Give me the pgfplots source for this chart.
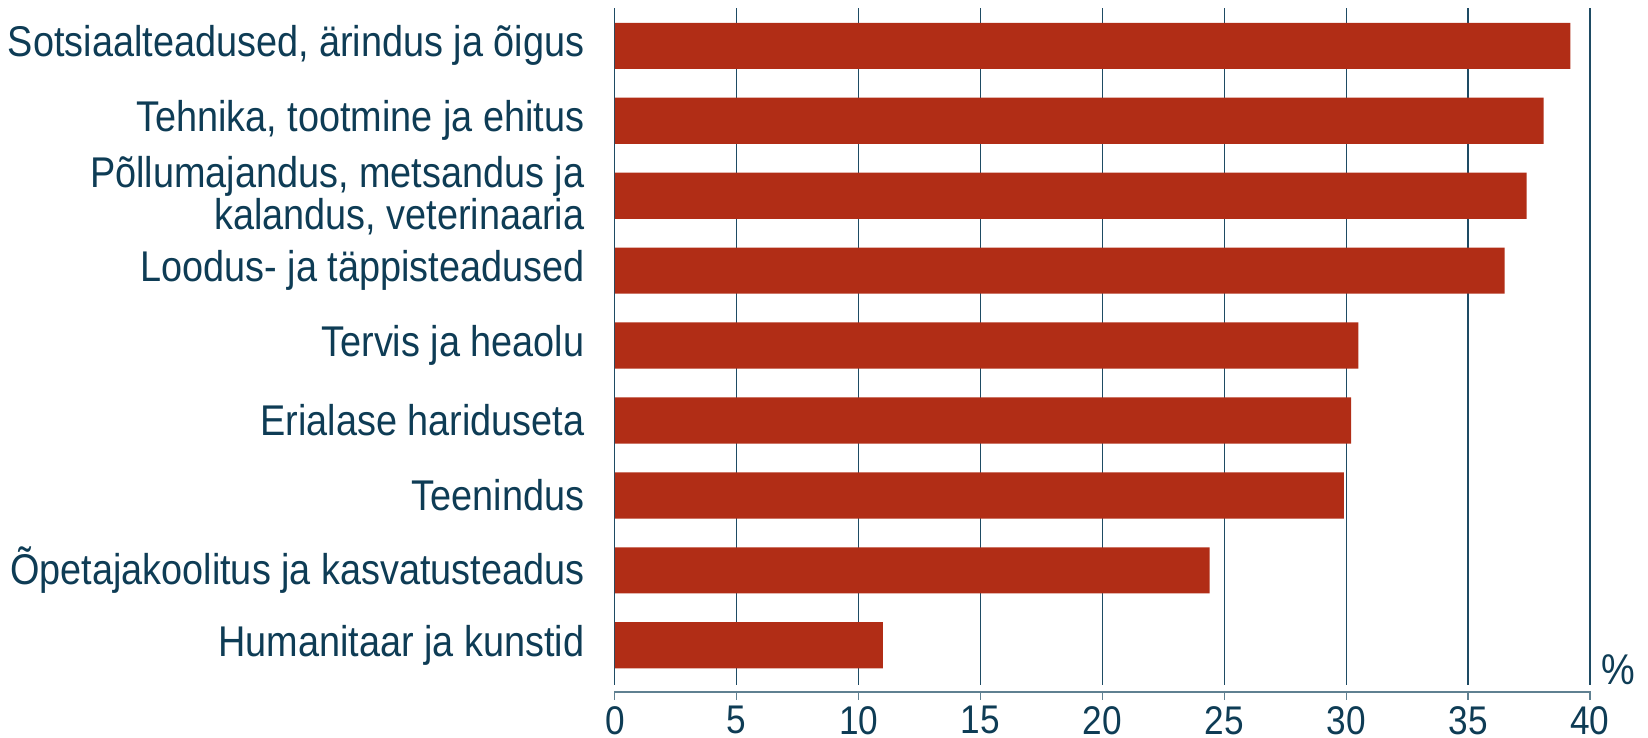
\documentclass[border=0pt]{standalone}
\usepackage{fontspec}
\setmainfont{Liberation Sans}[FakeStretch=0.88]
\usepackage{pgfplots}
\pgfplotsset{compat=1.18}
\definecolor{barred}{RGB}{177,45,22}
\definecolor{txt}{RGB}{14,60,85}
\definecolor{grd}{RGB}{30,75,100}
\definecolor{axl}{RGB}{95,128,145}

\begin{document}
\begin{tikzpicture}
\begin{axis}[
  xbar,
  bar width=23.1pt,
  scale only axis,
  width=487.6pt, height=338.3pt,
  xmin=0, xmax=40, ymin=0.47, ymax=9.5,
  xtick={0,5,...,40},
  ytick={1,...,9},
  yticklabels={Humanitaar ja kunstid,
    Õpetajakoolitus ja kasvatusteadus,
    Teenindus,
    Erialase hariduseta,
    Tervis ja heaolu,
    Loodus- ja täppisteadused,
    {Põllumajandus, metsandus ja\\kalandus, veterinaaria},
    {Tehnika, tootmine ja ehitus},
    {Sotsiaalteadused, ärindus ja õigus}},
  xmajorgrids,
  grid style={grd, line width=0.7pt},
  axis line style={draw=none},
  major tick length=0pt,
  tick label style={font=\fontsize{21.5}{18.4}\selectfont, text=txt},
  xticklabel style={anchor=north, inner sep=0pt, yshift=-10.5pt,
    font=\fontsize{20}{20}\selectfont},
  yticklabel style={anchor=east, align=right, inner sep=0pt, xshift=-15pt},
  /pgf/number format/assume math mode=true,
  xlabel={\%},
  xlabel style={at={(rel axis cs:1,0)}, anchor=base west, inner sep=0pt,
    xshift=5.5pt, font=\fontsize{21.5}{18.4}\selectfont, text=txt},
  clip=false,
]
\addplot[fill=barred, draw=none] coordinates {
  (11.0,1)
  (24.4,2)
  (29.9,3)
  (30.2,4)
  (30.5,5)
  (36.5,6)
  (37.4,7)
  (38.1,8)
  (39.2,9)
};
% axis line below the plot area, with its small ticks
\draw[axl, line width=1.1pt] ([yshift=-3.5pt]rel axis cs:0,0) -- ([yshift=-3.5pt]rel axis cs:1,0);
\pgfplotsinvokeforeach{0,5,...,40}{
  \draw[axl, line width=0.7pt] ([yshift=-3pt]axis cs:#1,0.47) -- ([yshift=-7.5pt]axis cs:#1,0.47);
}
% picture size
\path ([shift={(-307.4pt,-26.5pt)}]rel axis cs:0,0) rectangle ([shift={(516.6pt,342.5pt)}]rel axis cs:0,0);
\end{axis}
\end{tikzpicture}
\end{document}
